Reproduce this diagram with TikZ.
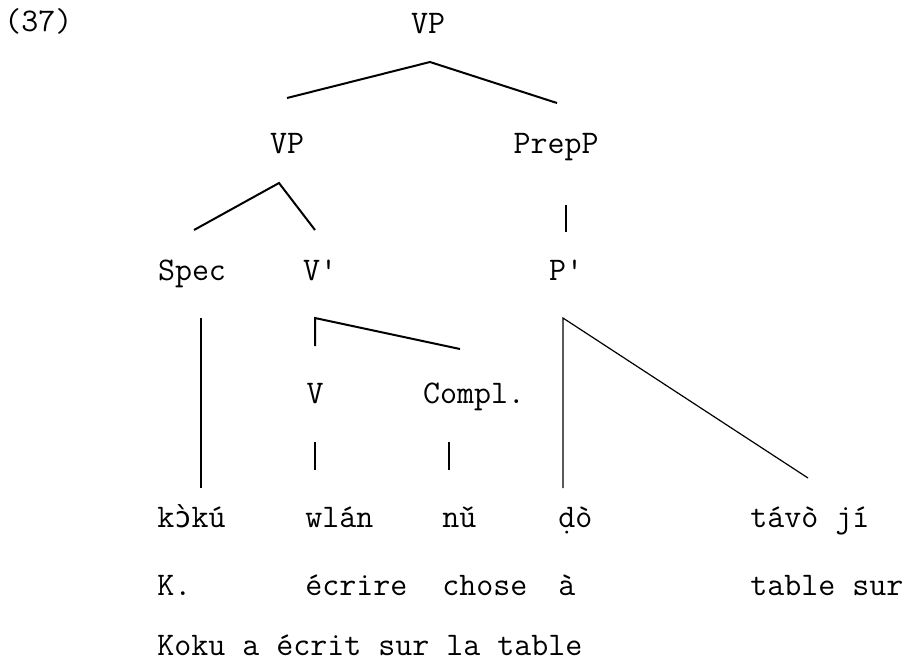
\documentclass[tikz,border=0pt]{standalone}
\usepackage{fontspec}
\setmonofont{Latin Modern Mono}
\newfontfamily\ipafont{DejaVu Sans Mono}[Scale=0.87]
\usetikzlibrary{calc}

\begin{document}
\begin{tikzpicture}[x=0.5pt, y=-0.5pt,
    every node/.style={font=\fontsize{16.5}{20}\selectfont\ttfamily, inner sep=0pt},
    cat/.style={anchor=base},
    word/.style={anchor=base west},
    branch/.style={line width=1pt},
    stem/.style={line width=0.6pt}]
  \useasboundingbox (0,0) rectangle (919,661);
  \node[word] (ex) at (4,31) {(37)};
  % categories
  \node[cat] (vp0) at (428,33) {VP};
  \node[cat] (vp1) at (287,153) {VP};
  \node[cat] (prepp) at (556,153) {PrepP};
  \node[cat] (spec) at (192,280) {Spec};
  \node[cat] (vbar) at (320,280) {V'};
  \node[cat] (pbar) at (566,280) {P'};
  \node[cat] (v) at (315,403) {V};
  \node[cat] (compl) at (474,403) {Compl.};
  % words and glosses
  \foreach \n/\x/\w/\g in {1/157/{k{\ipafont ɔ̀}kú}/K., 2/305/wlán/écrire,
      3/442/nǔ/chose, 4/558/ḍò/à, 5/750/távò jí/table sur} {
    \node[word] (w\n) at (\x,527) {\w};
    \node[word] (g\n) at (\x,595) {\g};
  }
  \node[word] (tr) at (157,655) {Koku a écrit sur la table};
  % branches
  \draw[branch] ($(vp1.base)+(0,-55)$) -- ($(vp0.base)+(2,29)$) -- ($(prepp.base)+(1,-50)$);
  \draw[branch] ($(spec.base)+(2,-50)$) -- ($(vp1.base)+(-8,30)$) -- ($(vbar.base)+(-5,-50)$);
  \draw[branch] ($(prepp.base)+(10,52)$) -- ($(pbar.base)+(0,-48)$);
  \draw[stem] ($(spec.base)+(9,38)$) -- ($(w1.base west)+(44,-39)$);
  \draw[branch] ($(v.base)+(0,-57)$) -- ($(vbar.base)+(-5,38)$) -- ($(compl.base)+(-14,-54)$);
  \draw[stem] ($(v.base)+(0,39)$) -- ($(w2.base west)+(10,-57)$);
  \draw[stem] ($(compl.base)+(-25,39)$) -- ($(w3.base west)+(7,-57)$);
  \draw[stem] ($(w4.base west)+(5,-39)$) -- ($(pbar.base)+(-3,38)$) -- ($(w5.base west)+(58,-49)$);
\end{tikzpicture}
\end{document}
